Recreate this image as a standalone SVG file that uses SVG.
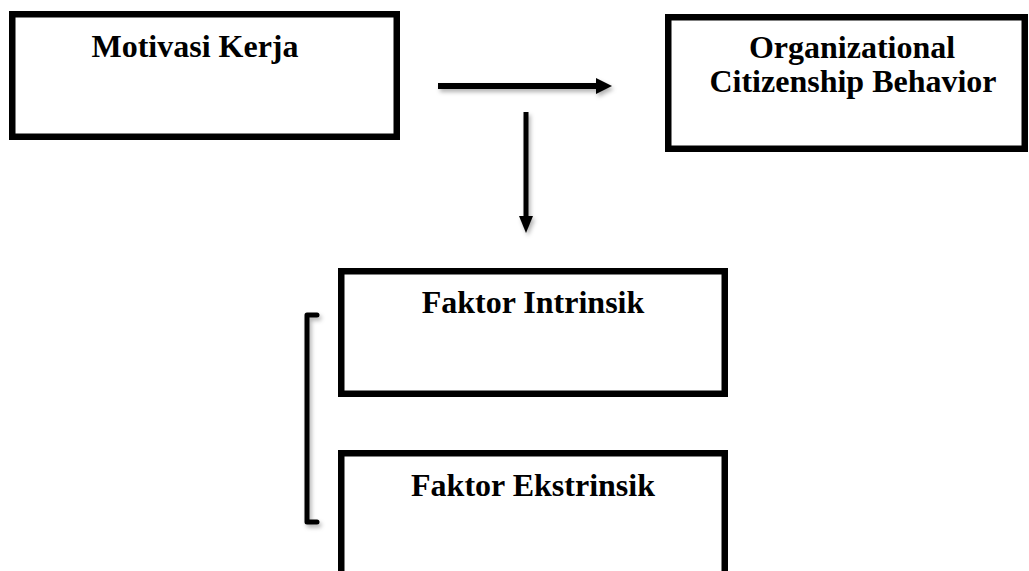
<svg xmlns="http://www.w3.org/2000/svg" width="1029" height="571" viewBox="0 0 1029 571">
  <style>
    .box { fill: #ffffff; stroke: #000000; stroke-width: 6.5; }
    .label { font-family: "Liberation Serif", "Times New Roman", serif; font-weight: bold; font-size: 32px; fill: #000000; text-anchor: middle; }
    .shaft { stroke: #000000; fill: none; }
    .head { fill: #000000; }
  </style>
  <defs>
    <filter id="shadow" x="-20%" y="-20%" width="140%" height="140%">
      <feDropShadow dx="2" dy="3" stdDeviation="2" flood-color="#000000" flood-opacity="0.3"/>
    </filter>
  </defs>
  <rect width="1029" height="571" fill="#ffffff"/>

  <g id="node-motivasi">
    <rect class="box" x="12.25" y="14.25" width="384.5" height="122.5"/>
    <text class="label" x="195" y="57">Motivasi Kerja</text>
  </g>

  <g id="node-ocb">
    <rect class="box" x="668.25" y="17.25" width="356.5" height="131.5"/>
    <text class="label" x="852" y="58">Organizational</text>
    <text class="label" x="853" y="92">Citizenship Behavior</text>
  </g>

  <g id="node-intrinsik">
    <rect class="box" x="341.25" y="271.25" width="383.5" height="122.5"/>
    <text class="label" x="533" y="313">Faktor Intrinsik</text>
  </g>

  <g id="node-ekstrinsik">
    <rect class="box" x="341.25" y="453.25" width="383.5" height="140"/>
    <text class="label" x="533" y="496">Faktor Ekstrinsik</text>
  </g>

  <g id="connectors" filter="url(#shadow)">
    <line class="shaft" x1="438" y1="86" x2="598" y2="86" stroke-width="6"/>
    <polygon class="head" points="596,78 612,86 596,94"/>
    <line class="shaft" x1="526" y1="112" x2="526" y2="219" stroke-width="5"/>
    <polygon class="head" points="519,216 533,216 526,233"/>
    <path class="shaft" d="M317,315 L307,315 L307,522 L317,522" stroke-width="5" stroke-linecap="round" stroke-linejoin="round"/>
  </g>
</svg>
